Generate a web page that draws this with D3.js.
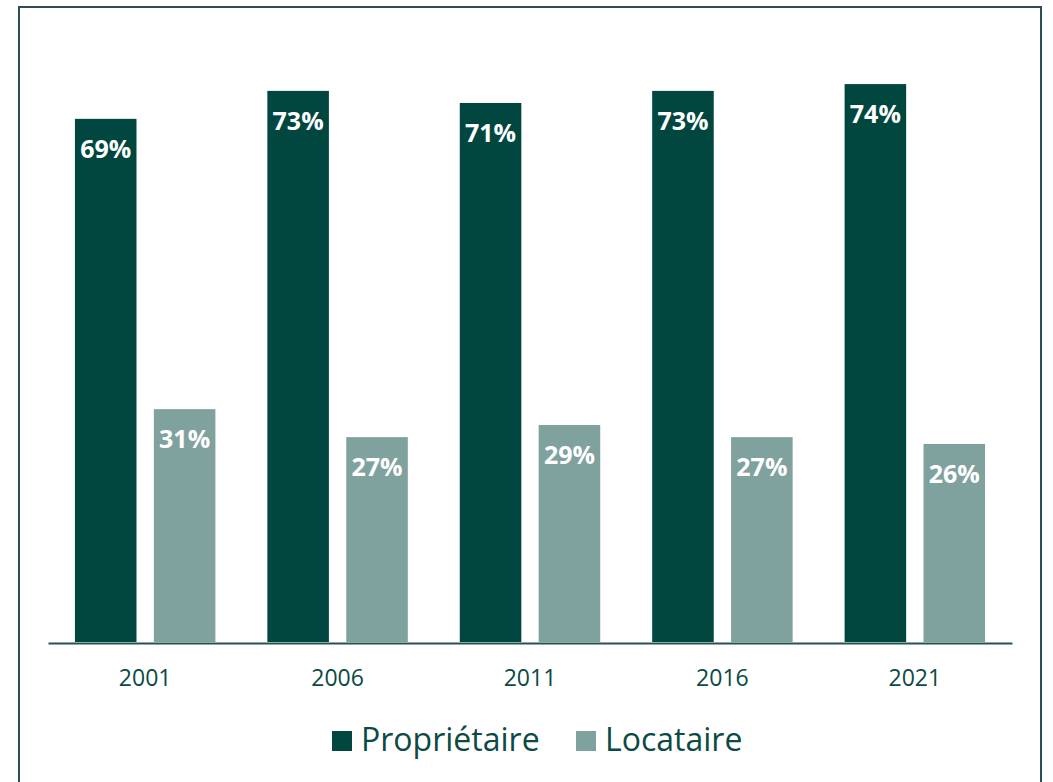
<!DOCTYPE html>
<html>
<head>
<meta charset="utf-8">
<script src="https://cdn.jsdelivr.net/npm/d3@7"></script>
<style>
  body { margin: 0; background: #fff; }
  svg { display: block; font-family: "Open Sans", "Noto Sans", sans-serif; }
</style>
</head>
<body>
<div id="chart"></div>
<script>
// data (labels show the rounded value)
const years = ["2001", "2006", "2011", "2016", "2021"];
const series = ["Propriétaire", "Locataire"];
const proprietaire = [69.2, 72.9, 71.3, 72.9, 73.8];
const locataire = [30.8, 27.1, 28.7, 27.1, 26.2];
const colors = ["#01473f", "#80a29f"];

const width = 1053, height = 782;
const margin = {left: 48, right: 41};
const baseY = 642;

const svg = d3.select("#chart")
  .append("svg")
    .attr("width", width)
    .attr("height", height);

// frame
svg.append("rect")
  .attr("x", 19)
  .attr("y", 7)
  .attr("width", 1022)
  .attr("height", 800)
  .attr("fill", "none")
  .attr("stroke", "#2e4d57")
  .attr("stroke-width", 2);

const rows = years.map((y, i) => ({year: y, values: [proprietaire[i], locataire[i]]}));

const x0 = d3.scaleBand()
  .domain(years)
  .range([margin.left, width - margin.right])
  .paddingInner(0.27)
  .paddingOuter(0.14);

const x1 = d3.scaleBand()
  .domain(d3.range(series.length))
  .range([0, x0.bandwidth()])
  .paddingInner(0.22);

const y = d3.scaleLinear()
  .domain([0, 100])
  .range([baseY, baseY - 756]);

const groups = svg.selectAll("g.group")
  .data(rows)
  .enter()
  .append("g")
    .attr("class", "group")
    .attr("transform", d => "translate(" + x0(d.year) + ",0)");

groups.selectAll("rect")
  .data(d => d.values.map((v, k) => ({k: k, v: v})))
  .enter()
  .append("rect")
    .attr("x", d => x1(d.k))
    .attr("width", x1.bandwidth())
    .attr("y", d => y(d.v))
    .attr("height", d => y(0) - y(d.v))
    .attr("fill", d => colors[d.k]);

groups.selectAll("text.val")
  .data(d => d.values.map((v, k) => ({k: k, v: v})))
  .enter()
  .append("text")
    .attr("class", "val")
    .attr("x", d => x1(d.k) + x1.bandwidth() / 2)
    .attr("y", d => y(d.v) + 39)
    .attr("text-anchor", "middle")
    .attr("fill", "#fff")
    .attr("font-weight", "bold")
    .attr("font-size", "25px")
    .text(d => d3.format(".0f")(d.v) + "%");

// x axis
const xAxis = svg.append("g")
  .attr("transform", "translate(0," + (baseY + 1) + ")")
  .call(d3.axisBottom(x0).tickSize(0).tickPadding(27).tickSizeOuter(0));
xAxis.select(".domain")
  .attr("stroke", "#24544f")
  .attr("stroke-width", 2);
xAxis.selectAll("text")
  .attr("font-family", "'Open Sans', sans-serif")
  .attr("font-size", "23px")
  .attr("fill", "#0b4a45");

// legend
const legendX = [332, 576];
const legend = svg.selectAll("g.legend")
  .data(series)
  .enter()
  .append("g")
    .attr("class", "legend")
    .attr("transform", (d, i) => "translate(" + legendX[i] + ",731)");
legend.append("rect")
  .attr("width", 20)
  .attr("height", 20)
  .attr("fill", (d, i) => colors[i]);
legend.append("text")
  .attr("x", 29)
  .attr("y", 20)
  .attr("font-size", "32px")
  .attr("fill", "#0b4a45")
  .text(d => d);
</script>
</body>
</html>
